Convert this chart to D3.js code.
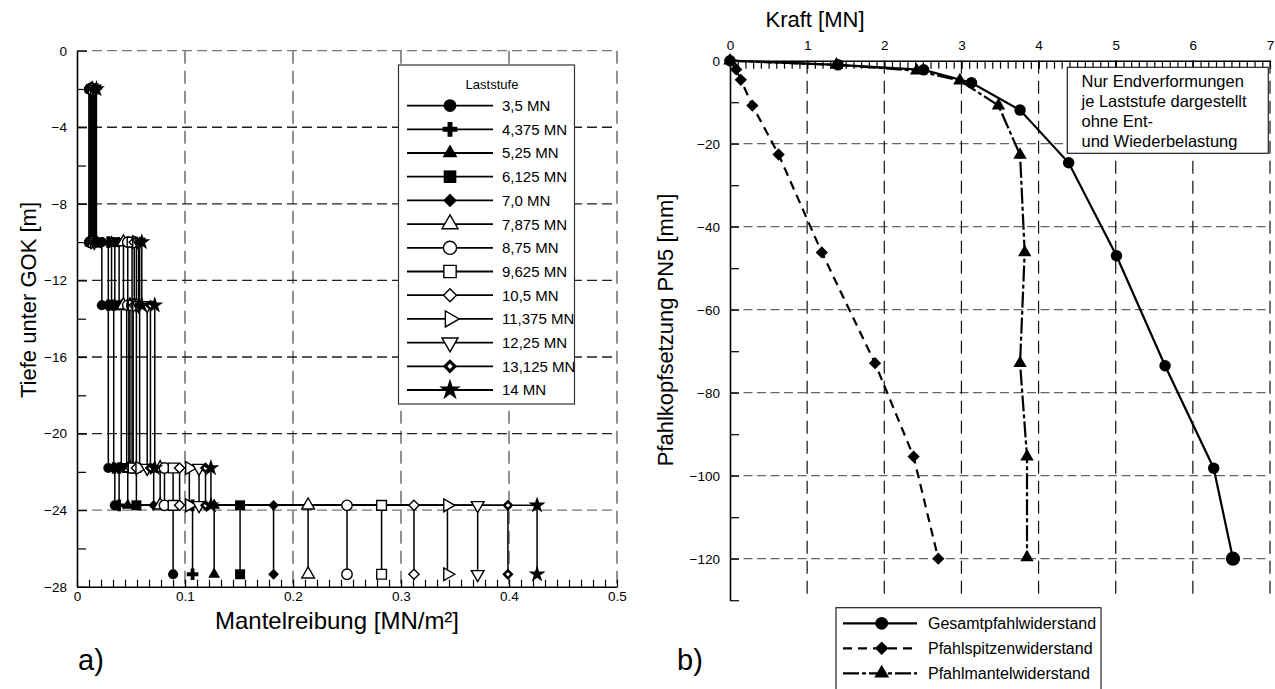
<!DOCTYPE html>
<html>
<head>
<meta charset="utf-8">
<script src="https://cdn.jsdelivr.net/npm/d3@7"></script>
<style>
  body { margin: 0; background: #fff; }
  svg { display: block; font-family: Arial, 'Liberation Sans', sans-serif; }
</style>
</head>
<body>
<svg id="chart" width="1275" height="689"></svg>
<script>
// ---- data: a) Mantelreibung je Laststufe ----
const loadSteps = ['3,5 MN', '4,375 MN', '5,25 MN', '6,125 MN', '7,0 MN', '7,875 MN', '8,75 MN',
	'9,625 MN', '10,5 MN', '11,375 MN', '12,25 MN', '13,125 MN', '14 MN'];
// depth of the step corners [m]
const depthLevels = [-2, -10, -13.3, -21.8, -23.75, -27.35];
// skin friction [MN/m²] in each layer, one value per load step
const fricLayer1 = [0.011, 0.012, 0.012, 0.013, 0.013, 0.014, 0.014, 0.015, 0.015, 0.016, 0.016, 0.017, 0.018];
const fricLayer2 = [0.023, 0.029, 0.032, 0.035, 0.039, 0.043, 0.047, 0.051, 0.053, 0.055, 0.057, 0.058, 0.060];
const fricLayer3 = [0.029, 0.034, 0.041, 0.046, 0.048, 0.049, 0.051, 0.052, 0.055, 0.058, 0.065, 0.068, 0.072];
const fricLayer4 = [0.035, 0.039, 0.047, 0.055, 0.071, 0.077, 0.081, 0.089, 0.095, 0.104, 0.113, 0.119, 0.124];
const fricLayer5 = [0.089, 0.107, 0.127, 0.151, 0.182, 0.214, 0.250, 0.282, 0.312, 0.343, 0.371, 0.399, 0.426];
const xTicksLeft = [0, 0.1, 0.2, 0.3, 0.4, 0.5];
const yTicksLeft = [0, -4, -8, -12, -16, -20, -24, -28];

// ---- data: b) Widerstands-Setzungslinien ----
const seriesNames = ['Gesamtpfahlwiderstand', 'Pfahlspitzenwiderstand', 'Pfahlmantelwiderstand'];
const forceGesamt = [0, 1.40, 2.51, 3.13, 3.76, 4.39, 5.01, 5.64, 6.27, 6.52];
const settleGesamt = [0, -1.0, -2.2, -5.3, -11.9, -24.6, -47.0, -73.5, -98.2, -120.0];
const forceSpitze = [0, 0.08, 0.14, 0.29, 0.63, 1.19, 1.88, 2.38, 2.70];
const settleSpitze = [0, -2.1, -4.6, -10.8, -22.6, -46.2, -72.9, -95.4, -120.0];
const forceMantel = [0, 1.38, 2.42, 2.98, 3.48, 3.76, 3.82, 3.76, 3.85, 3.85];
const settleMantel = [0, -1.0, -2.4, -4.8, -10.8, -22.7, -46.2, -72.9, -95.4, -119.7];
const xTicksRight = [0, 1, 2, 3, 4, 5, 6, 7];
const yTicksRight = [0, -20, -40, -60, -80, -100, -120];
const noteLines = ['Nur Endverformungen', 'je Laststufe dargestellt', 'ohne Ent-', 'und Wiederbelastung'];

// marker shape per load step (style, not data)
const shapes = ['circle', 'plus', 'tri', 'square', 'diamond', 'triOpen', 'circleOpen', 'squareOpen',
	'diamondOpen', 'triRight', 'triDown', 'diamondDouble', 'star'];

const svg = d3.select('#chart');

function marker(g, shape, x, y, k) {
	k = k || 1;
	const open = { fill: '#fff', stroke: '#000', 'stroke-width': 1.4 };
	const solid = { fill: '#000', stroke: 'none' };
	const add = (type, size, style, rot) => {
		const p = g.append('path')
			.attr('d', d3.symbol(type, size * k)())
			.attr('transform', 'translate(' + x + ',' + y + ')' + (rot ? ' rotate(' + rot + ')' : ''));
		Object.entries(style).forEach(([a, v]) => p.attr(a, v));
	};
	switch (shape) {
		case 'circle': add(d3.symbolCircle, 80, solid); break;
		case 'plus': add(d3.symbolCross, 75, solid); break;
		case 'tri': add(d3.symbolTriangle, 60, solid); break;
		case 'square': add(d3.symbolSquare, 100, solid); break;
		// diamonds are squares turned by 45 degrees
		case 'diamond': add(d3.symbolSquare, 58, solid, 45); break;
		case 'triOpen': add(d3.symbolTriangle, 70, open); break;
		case 'circleOpen': add(d3.symbolCircle, 85, open); break;
		case 'squareOpen': add(d3.symbolSquare, 95, open); break;
		case 'diamondOpen': add(d3.symbolSquare, 52, open, 45); break;
		case 'triRight': add(d3.symbolTriangle, 70, open, 90); break;
		case 'triDown': add(d3.symbolTriangle, 70, open, 180); break;
		case 'diamondDouble': add(d3.symbolSquare, 64, solid, 45); add(d3.symbolSquare, 9, { fill: '#fff' }, 45); break;
		case 'star': add(d3.symbolStar, 90, solid); break;
	}
}

// =================== a) left chart ===================
const xL = d3.scaleLinear().domain([0, 0.5]).range([77, 617]);
const yL = d3.scaleLinear().domain([0, -28]).range([50.7, 586.7]);
const left = svg.append('g');

// grid
left.append('g').selectAll('line')
	.data(xTicksLeft.slice(1))
	.enter().append('line')
	.attr('x1', d => xL(d)).attr('x2', d => xL(d))
	.attr('y1', yL(0)).attr('y2', yL(-28))
	.attr('stroke', '#555').attr('stroke-width', 1.3).attr('stroke-dasharray', '13,7');
left.append('g').selectAll('line')
	.data(yTicksLeft.slice(0, -1))
	.enter().append('line')
	.attr('x1', xL(0)).attr('x2', xL(0.5))
	.attr('y1', d => yL(d)).attr('y2', d => yL(d))
	.attr('stroke', d => (d === 0 || d === -24) ? '#777' : '#222')
	.attr('stroke-width', 1.3).attr('stroke-dasharray', '10,5');

// legend box (drawn under the data, above grid)
const legL = left.append('g');
legL.append('rect')
	.attr('x', 398.5).attr('y', 65).attr('width', 176).attr('height', 339)
	.attr('fill', '#fff').attr('stroke', '#333').attr('stroke-width', 1.2);
legL.append('text')
	.attr('x', 492).attr('y', 89).attr('text-anchor', 'middle')
	.attr('font-size', 13).text('Laststufe');
loadSteps.forEach((name, i) => {
	const ly = 105.6 + i * 23.7;
	legL.append('line').attr('x1', 407).attr('x2', 493).attr('y1', ly).attr('y2', ly)
		.attr('stroke', '#000').attr('stroke-width', 1.8);
	marker(legL, shapes[i], 450, ly, 1.6);
	legL.append('text').attr('x', 502).attr('y', ly + 5.4)
		.attr('font-size', 15).text(name);
});

// staircase profiles
const layers = [fricLayer1, fricLayer2, fricLayer3, fricLayer4, fricLayer5];
const profiles = loadSteps.map((name, i) => {
	const pts = [];
	layers.forEach((layer, j) => {
		pts.push([layer[i], depthLevels[j]]);
		pts.push([layer[i], depthLevels[j + 1]]);
	});
	return pts;
});
const lineL = d3.line().x(d => xL(d[0])).y(d => yL(d[1]));
left.append('g').selectAll('path')
	.data(profiles)
	.enter().append('path')
	.attr('d', lineL)
	.attr('fill', 'none').attr('stroke', '#000').attr('stroke-width', 1.5);
profiles.forEach((pts, i) => {
	const g = left.append('g');
	pts.forEach(p => marker(g, shapes[i], xL(p[0]), yL(p[1]), 1));
});

// axes
left.append('g').attr('transform', 'translate(' + xL(0) + ',0)')
	.call(d3.axisLeft(yL).tickValues(yTicksLeft).tickFormat(d3.format('d'))
		.tickSizeInner(-10).tickSizeOuter(0).tickPadding(10));
left.append('g').attr('transform', 'translate(' + xL(0) + ',0)')
	.call(d3.axisLeft(yL).tickValues(d3.range(-2, -28, -4)).tickFormat('')
		.tickSizeInner(-9).tickSizeOuter(0))
	.call(g => g.select('.domain').remove());
left.append('g').attr('transform', 'translate(0,' + yL(-28) + ')')
	.call(d3.axisBottom(xL).tickValues(xTicksLeft).tickFormat(d => d === 0 ? '0' : d3.format('.1f')(d))
		.tickSizeInner(-7).tickSizeOuter(0).tickPadding(5));
left.append('g').attr('transform', 'translate(0,' + yL(-28) + ')')
	.call(d3.axisBottom(xL).tickValues(d3.range(1, 45).map(k => k * 0.1 / 9)).tickFormat('')
		.tickSizeInner(-7).tickSizeOuter(0))
	.call(g => g.select('.domain').remove());

left.append('text')
	.attr('transform', 'translate(36,300) rotate(-90)')
	.attr('text-anchor', 'middle').attr('font-size', 22)
	.text('Tiefe  unter GOK [m]');
left.append('text')
	.attr('x', 337).attr('y', 629).attr('text-anchor', 'middle').attr('font-size', 24)
	.text('Mantelreibung [MN/m²]');
left.append('text').attr('x', 78).attr('y', 670).attr('font-size', 29).text('a)');

// =================== b) right chart ===================
const xR = d3.scaleLinear().domain([0, 7]).range([730, 1270]);
const yR = d3.scaleLinear().domain([0, -130]).range([60.7, 600.2]);
const right = svg.append('g');

right.append('g').selectAll('line')
	.data(yTicksRight.slice(1))
	.enter().append('line')
	.attr('x1', xR(0)).attr('x2', xR(7))
	.attr('y1', d => yR(d)).attr('y2', d => yR(d))
	.attr('stroke', '#666').attr('stroke-width', 1.3).attr('stroke-dasharray', '9,4.5');
right.append('g').selectAll('line')
	.data(xTicksRight.slice(1))
	.enter().append('line')
	.attr('x1', d => xR(d)).attr('x2', d => xR(d))
	.attr('y1', yR(0)).attr('y2', yR(-130))
	.attr('stroke', '#111').attr('stroke-width', 1.2).attr('stroke-dasharray', '13,7');

// axes
right.append('g').attr('transform', 'translate(' + xR(0) + ',0)')
	.call(d3.axisLeft(yR).tickValues(yTicksRight).tickFormat(d3.format('d'))
		.tickSizeInner(-9).tickSizeOuter(0).tickPadding(10));
right.append('g').attr('transform', 'translate(' + xR(0) + ',0)')
	.call(d3.axisLeft(yR).tickValues(d3.range(-10, -140, -20)).tickFormat('')
		.tickSizeInner(-9).tickSizeOuter(0))
	.call(g => g.select('.domain').remove());
right.append('g').attr('transform', 'translate(0,' + yR(0) + ')')
	.call(d3.axisTop(xR).tickValues(xTicksRight).tickFormat(d3.format('d'))
		.tickSizeInner(-8).tickSizeOuter(0).tickPadding(11));
right.append('g').attr('transform', 'translate(0,' + yR(0) + ')')
	.call(d3.axisTop(xR).tickValues(d3.range(1, 70).map(k => k / 10)).tickFormat('')
		.tickSizeInner(-8).tickSizeOuter(0))
	.call(g => g.select('.domain').remove());

// note box
right.append('rect')
	.attr('x', 1067.3).attr('y', 67.3).attr('width', 201).attr('height', 86)
	.attr('fill', '#fff').attr('stroke', '#222').attr('stroke-width', 1.2);
right.append('g').selectAll('text')
	.data(noteLines)
	.enter().append('text')
	.attr('x', 1081.5).attr('y', (d, i) => 86.5 + i * 20)
	.attr('font-size', 16.5).text(d => d);

// curves
const lineR = d3.line().x(d => xR(d[0])).y(d => yR(d[1]));
const curves = [
	{ pts: d3.zip(forceGesamt, settleGesamt), dash: null, shape: 'circle' },
	{ pts: d3.zip(forceSpitze, settleSpitze), dash: '9,6', shape: 'diamond' },
	{ pts: d3.zip(forceMantel, settleMantel), dash: '16,3,4,3', shape: 'tri' }
];
curves.forEach(c => {
	right.append('path').datum(c.pts)
		.attr('d', lineR)
		.attr('fill', 'none').attr('stroke', '#000').attr('stroke-width', 2.2)
		.attr('stroke-dasharray', c.dash);
});
curves.forEach(c => {
	c.pts.forEach((p, i) => {
		const big = c.shape === 'circle' && i === c.pts.length - 1 ? 2 : 1.3;
		marker(right, c.shape, xR(p[0]), yR(p[1]), big);
	});
});

// legend
const legR = right.append('g');
legR.append('rect')
	.attr('x', 836).attr('y', 607.7).attr('width', 265).attr('height', 90)
	.attr('fill', '#fff').attr('stroke', '#222').attr('stroke-width', 1.2);
seriesNames.forEach((name, i) => {
	const ly = 623.3 + i * 25;
	legR.append('line').attr('x1', 843).attr('x2', 917).attr('y1', ly).attr('y2', ly)
		.attr('stroke', '#000').attr('stroke-width', 2.2).attr('stroke-dasharray', curves[i].dash);
	marker(legR, curves[i].shape, 881.7, ly, 1.6);
	legR.append('text').attr('x', 928).attr('y', ly + 5.8).attr('font-size', 16).text(name);
});

right.append('text')
	.attr('x', 815).attr('y', 27).attr('text-anchor', 'middle').attr('font-size', 22)
	.text('Kraft [MN]');
right.append('text')
	.attr('transform', 'translate(673,330) rotate(-90)')
	.attr('text-anchor', 'middle').attr('font-size', 22)
	.text('Pfahlkopfsetzung PN5 [mm]');
right.append('text').attr('x', 677).attr('y', 670).attr('font-size', 29).text('b)');

// axis styling
svg.selectAll('.tick text').attr('font-size', 13.5).attr('fill', '#000')
	.attr('font-family', "Arial, 'Liberation Sans', sans-serif");
svg.selectAll('.tick line').attr('stroke', '#000').attr('stroke-width', 1.2);
svg.selectAll('.domain').attr('stroke', '#000').attr('stroke-width', 1.6);
</script>
</body>
</html>
